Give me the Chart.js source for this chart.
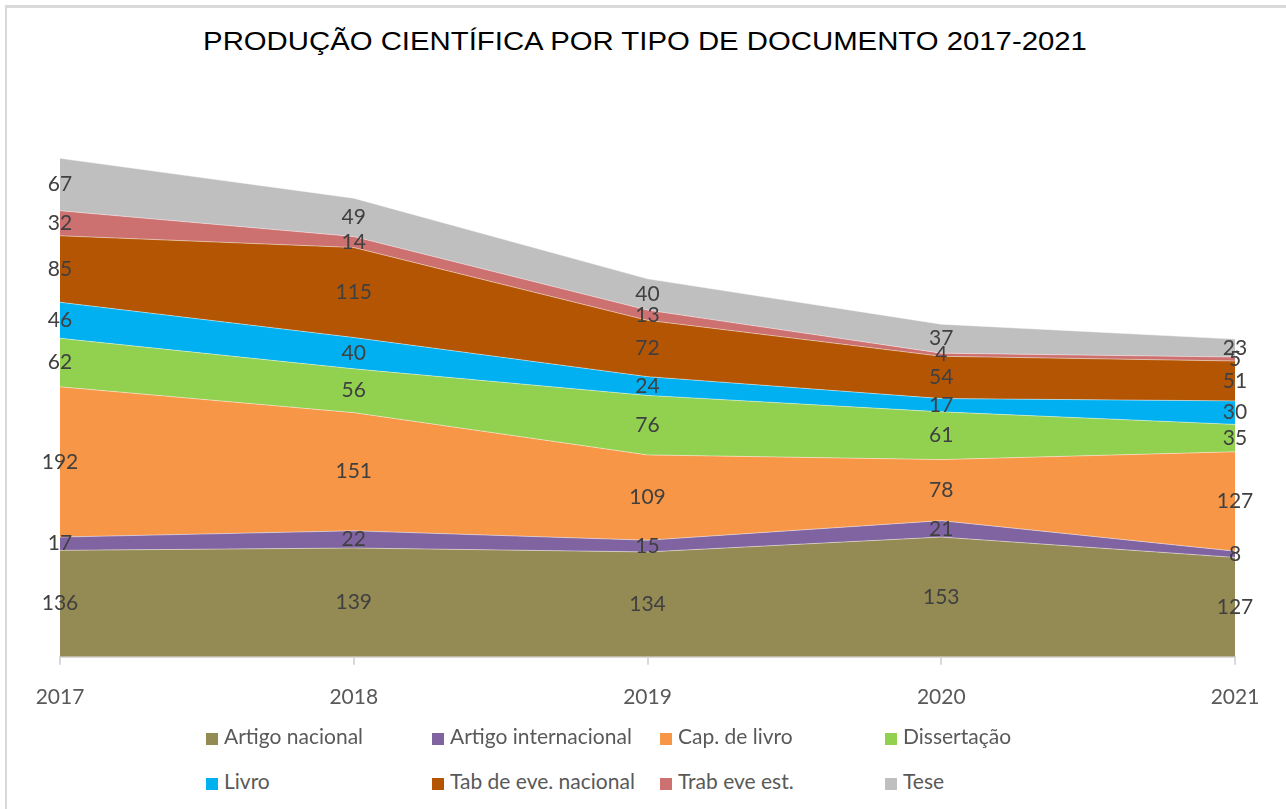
<!DOCTYPE html>
<html>
<head>
<meta charset="utf-8">
<script src="https://cdn.jsdelivr.net/npm/chart.js@4/dist/chart.umd.min.js"></script>
<style>
    body { margin: 0; background: #fff; }
    #frame {
        position: absolute; left: 5px; top: 5px; width: 1290px; height: 810px;
        border-left: 2px solid #d9d9d9; border-top: 3px solid #d9d9d9;
    }
    #wrap { position: absolute; left: 0; top: 0; width: 1286px; height: 730px; }
    #title {
        position: absolute; left: 0; width: 1290px; top: 26px; text-align: center;
        font-family: "Liberation Sans", Arial, sans-serif; font-size: 26px; color: #000;
        transform: scaleX(1.128); transform-origin: 645px 0;
    }
    .leg {
        position: absolute; font-family: Lato, "Noto Sans", sans-serif; font-size: 21px;
        color: #595959; white-space: nowrap; line-height: 24px;
    }
    .leg i { display: inline-block; width: 12px; height: 12px; margin-right: 6px; vertical-align: -1px; }
</style>
</head>
<body>
<div id="frame"></div>
<div id="title">PRODUÇÃO CIENTÍFICA POR TIPO DE DOCUMENTO 2017-2021</div>
<div id="wrap"><canvas id="areaChart"></canvas></div>
<div id="legend"></div>
<script>
const years = ['2017', '2018', '2019', '2020', '2021'];

const artigoNacional = [136, 139, 134, 153, 127];
const artigoInternacional = [17, 22, 15, 21, 8];
const capLivro = [192, 151, 109, 78, 127];
const dissertacao = [62, 56, 76, 61, 35];
const livro = [46, 40, 24, 17, 30];
const tabEveNacional = [85, 115, 72, 54, 51];
const trabEveEst = [32, 14, 13, 4, 5];
const tese = [67, 49, 40, 37, 23];

const seriesNames = ['Artigo nacional', 'Artigo internacional', 'Cap. de livro', 'Dissertação',
    'Livro', 'Tab de eve. nacional', 'Trab eve est.', 'Tese'];
const seriesData = [artigoNacional, artigoInternacional, capLivro, dissertacao,
    livro, tabEveNacional, trabEveEst, tese];
const seriesColors = ['#948A54', '#8064A2', '#F79646', '#92D050',
    '#00B0F0', '#B45504', '#CD7070', '#BFBFBF'];

// legend laid out in a grid like the original
const legendCols = [206, 432, 660, 885];
const legendRows = [736, 781];
const legend = document.getElementById('legend');
seriesNames.forEach((name, i) => {
    const el = document.createElement('div');
    el.className = 'leg';
    el.style.left = legendCols[i % 4] + 'px';
    el.style.top = (legendRows[Math.floor(i / 4)] - 12) + 'px';
    el.innerHTML = '<i style="background:' + seriesColors[i] + '"></i>' + name;
    legend.appendChild(el);
});

// value labels in the middle of each band
const bandLabels = {
    id: 'bandLabels',
    afterDatasetsDraw(chart) {
        const ctx = chart.ctx;
        const yScale = chart.scales.y;
        ctx.save();
        ctx.font = '21px Lato, "Noto Sans", sans-serif';
        ctx.fillStyle = '#404040';
        ctx.textAlign = 'center';
        ctx.textBaseline = 'middle';
        years.forEach((yr, j) => {
            let base = 0;
            chart.data.datasets.forEach((ds, i) => {
                const v = ds.data[j];
                const x = chart.getDatasetMeta(i).data[j].x;
                const y = yScale.getPixelForValue(base + v / 2);
                ctx.fillText(String(v), x, y);
                base += v;
            });
        });
        ctx.restore();
    }
};

new Chart(document.getElementById('areaChart'), {
    type: 'line',
    data: {
        labels: years,
        datasets: seriesData.map((d, i) => ({
            label: seriesNames[i],
            data: d,
            backgroundColor: seriesColors[i],
            borderColor: 'rgba(255,255,255,0.45)',
            borderWidth: 1,
            pointRadius: 0,
            tension: 0,
            fill: i === 0 ? 'origin' : '-1'
        }))
    },
    options: {
        responsive: true,
        maintainAspectRatio: false,
        animation: false,
        layout: { padding: { left: 60, right: 51, top: 109, bottom: 0 } },
        plugins: {
            legend: { display: false },
            tooltip: { enabled: false }
        },
        scales: {
            x: {
                offset: false,
                grid: { display: true, drawOnChartArea: false, color: '#d9d9d9', tickLength: 8, lineWidth: 2 },
                border: { color: '#d9d9d9', width: 2 },
                ticks: {
                    color: '#595959',
                    font: { family: 'Lato, "Noto Sans", sans-serif', size: 21 },
                    padding: 20,
                    maxRotation: 0
                }
            },
            y: {
                display: false,
                stacked: true,
                min: 0,
                max: 700
            }
        }
    },
    plugins: [bandLabels]
});
</script>
</body>
</html>
